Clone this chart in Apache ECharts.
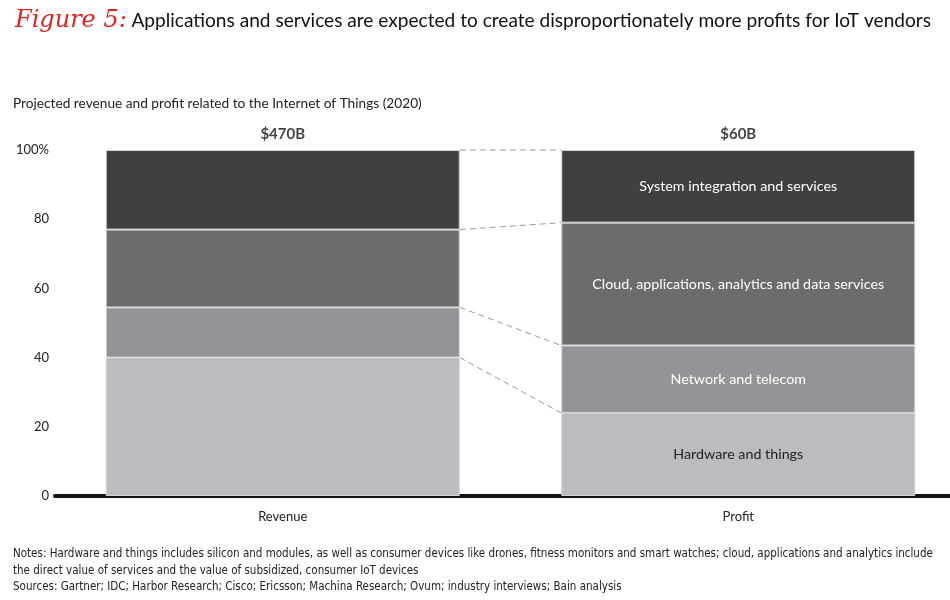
<!DOCTYPE html>
<html>
<head>
<meta charset="utf-8">
<script src="https://cdn.jsdelivr.net/npm/echarts@6/dist/echarts.min.js"></script>
<style>
  html, body { margin: 0; padding: 0; background: #fff; }
  #chart { width: 950px; height: 600px; }
</style>
</head>
<body>
<div id="chart"></div>
<script>
// ---- data ----
const categories = ['Revenue', 'Profit'];
const totals = ['$470B', '$60B'];
const segmentNames = [
	'Hardware and things',
	'Network and telecom',
	'Cloud, applications, analytics and data services',
	'System integration and services'
];
const revenueShare = [40, 14.5, 22.5, 23];
const profitShare = [24, 19.5, 35.5, 21];
const yTicks = [0, 20, 40, 60, 80, 100];

const segmentColors = ['#bbbcbf', '#939497', '#6b6c6e', '#404040'];
const labelColors = ['#222', '#fff', '#fff', '#fff'];
const barWidth = 354;
const font = 'Lato, "Noto Sans", sans-serif';

// cumulative boundaries for the dashed connectors
function cumulative(arr) {
	let s = 0;
	return arr.map(v => (s += v));
}
const revCum = cumulative(revenueShare);
const profCum = cumulative(profitShare);
const connectors = revCum.map((v, i) => [0, v, profCum[i]]);

const chart = echarts.init(document.getElementById('chart'));

const barSeries = segmentNames.map((name, i) => ({
	name: name,
	type: 'bar',
	stack: 'total',
	barWidth: barWidth,
	itemStyle: { color: segmentColors[i], borderColor: '#d2d3d5', borderWidth: 1 },
	data: [
		revenueShare[i],
		{
			value: profitShare[i],
			label: {
				show: true,
				position: 'inside',
				formatter: name,
				color: labelColors[i],
				fontFamily: font,
				fontSize: 14.3
			}
		}
	],
	z: 2
}));

chart.setOption({
	animation: false,
	textStyle: { fontFamily: font },
	title: [
		{
			left: 10,
			top: 4,
			text: '{fig|Figure 5:} {main|Applications and services are expected to create disproportionately more profits for IoT vendors}',
			textStyle: {
				fontWeight: 'normal',
				rich: {
					fig: { color: '#e3251e', fontSize: 24, fontStyle: 'italic', fontWeight: 'normal', fontFamily: '"DejaVu Serif", serif' },
					main: { color: '#111', fontSize: 19.1, fontWeight: 'normal', fontFamily: font }
				}
			}
		},
		{
			left: 8,
			top: 92,
			text: 'Projected revenue and profit related to the Internet of Things (2020)',
			textStyle: { color: '#222', fontSize: 13.7, fontWeight: 'normal', fontFamily: font }
		}
	],
	grid: { left: 55, top: 150, width: 911, height: 346, containLabel: false, outerBoundsMode: 'none' },
	xAxis: {
		type: 'category',
		data: categories,
		axisLine: { show: true, lineStyle: { color: '#111', width: 4 } },
		axisTick: { show: false },
		axisLabel: { color: '#222', fontSize: 13, margin: 14, fontFamily: font }
	},
	yAxis: {
		type: 'value',
		min: 0,
		max: 100,
		interval: 20,
		axisLine: { show: false },
		axisTick: { show: false },
		splitLine: { show: false },
		axisLabel: {
			color: '#222',
			fontSize: 13,
			margin: 6,
			fontFamily: font,
			formatter: v => (yTicks.indexOf(v) === yTicks.length - 1 ? v + '%' : String(v))
		}
	},
	series: barSeries.concat([
		{
			type: 'custom',
			name: 'connectors',
			data: connectors,
			encode: { x: 0, y: [1, 2] },
			z: 1,
			silent: true,
			renderItem: function (params, api) {
				const a = api.coord([0, api.value(1)]);
				const b = api.coord([1, api.value(2)]);
				return {
					type: 'line',
					shape: { x1: a[0] + barWidth / 2, y1: a[1], x2: b[0] - barWidth / 2, y2: b[1] },
					style: { stroke: '#999', lineWidth: 1, lineDash: [6, 4] }
				};
			}
		},
		{
			type: 'scatter',
			name: 'totals',
			symbolSize: 0,
			silent: true,
			data: categories.map((c, i) => [i, revCum[revCum.length - 1]]),
			label: {
				show: true,
				position: 'top',
				distance: 8,
				color: '#111',
				fontWeight: 'bold',
				fontSize: 15,
				fontFamily: font,
				formatter: p => totals[p.dataIndex]
			}
		}
	]),
	graphic: [
		{
			type: 'text',
			left: 13,
			top: 546,
			style: {
				text: 'Notes: Hardware and things includes silicon and modules, as well as consumer devices like drones, fitness monitors and smart watches; cloud, applications and analytics include\nthe direct value of services and the value of subsidized, consumer IoT devices\nSources: Gartner; IDC; Harbor Research; Cisco; Ericsson; Machina Research; Ovum; industry interviews; Bain analysis',
				font: '11.5px "Liberation Sans Narrow", "DejaVu Sans Condensed", sans-serif',
				lineHeight: 16.5,
				fill: '#222'
			}
		}
	]
});
</script>
</body>
</html>
